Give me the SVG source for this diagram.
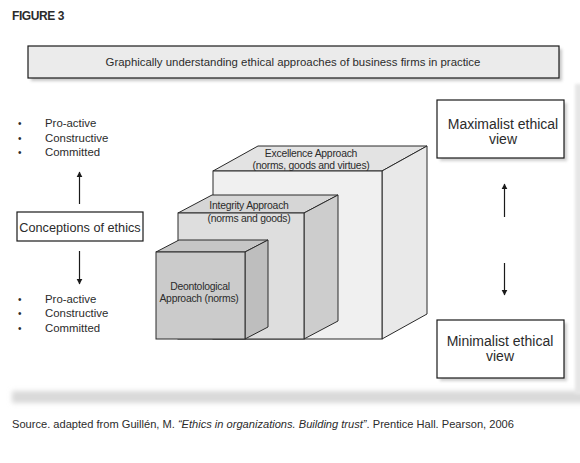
<svg xmlns="http://www.w3.org/2000/svg" width="580" height="463" viewBox="0 0 580 463">
<defs>
<style>
.t{font-family:"Liberation Sans",Arial,sans-serif;fill:#2b2b2b}
.c{font-size:10.4px;letter-spacing:-0.25px}
.box{fill:#fff;stroke:#1a1a1a;stroke-width:1.2}
.face{stroke:#2a2a2a;stroke-width:1}
.conn{stroke:#1a1a1a;stroke-width:1.2;fill:none}
</style>
<filter id="blur" x="-20%" y="-50%" width="140%" height="200%"><feGaussianBlur stdDeviation="2.5"/></filter>
<filter id="blur2" x="-20%" y="-20%" width="140%" height="140%"><feGaussianBlur stdDeviation="1.5"/></filter>
<marker id="ah" viewBox="0 0 10 10" refX="9" refY="5" markerWidth="6" markerHeight="7" markerUnits="userSpaceOnUse" orient="auto"><path d="M0,0 L10,5 L0,10 z" fill="#1a1a1a"/></marker>
</defs>
<rect width="580" height="463" fill="#fff"/>
<!-- frame shadows -->
<rect x="12" y="391" width="580" height="12" fill="#d9d9d9" filter="url(#blur)"/>
<rect x="575" y="84" width="8" height="310" fill="#e6e6e6" filter="url(#blur2)"/>
<text class="t" x="12" y="20" font-size="12" font-weight="bold" letter-spacing="-0.4">FIGURE 3</text>
<g id="title">
<rect x="31" y="49" width="531" height="32" fill="#c8c8c8" filter="url(#blur2)"/>
<rect x="28" y="46" width="531" height="32" fill="#ebebeb" stroke="#1a1a1a" stroke-width="1.2"/>
<text class="t" x="293" y="66" font-size="11.4" text-anchor="middle">Graphically understanding ethical approaches of business firms in practice</text>
</g>
<g id="excellence">
<polygon class="face" points="213,171 258,146 427,146 382,171" fill="#e3e3e3"/>
<polygon class="face" points="382,171 427,146 427,314 382,339" fill="#e9e9e9"/>
<rect class="face" x="213" y="171" width="169" height="168" fill="#f0f0f0"/>
<text class="t c" x="311" y="157" text-anchor="middle">Excellence Approach</text>
<text class="t c" x="311" y="168.5" text-anchor="middle">(norms, goods and virtues)</text>
</g>
<g id="integrity">
<polygon class="face" points="178,213 212,195 338,195 304,213" fill="#d6d6d6"/>
<polygon class="face" points="304,213 338,195 338,321 304,339" fill="#cdcdcd"/>
<rect class="face" x="178" y="213" width="126" height="126" fill="#dedede"/>
<text class="t c" x="249" y="209" text-anchor="middle">Integrity Approach</text>
<text class="t c" x="249" y="221.5" text-anchor="middle">(norms and goods)</text>
</g>
<g id="deontological">
<polygon class="face" points="156,252 179,240 268,240 245,252" fill="#c6c6c6"/>
<polygon class="face" points="245,252 268,240 268,327 245,339" fill="#bebebe"/>
<rect class="face" x="156" y="252" width="89" height="87" fill="#cbcbcb"/>
<text class="t c" x="200" y="290" text-anchor="middle">Deontological</text>
<text class="t c" x="199" y="301.5" text-anchor="middle">Approach (norms)</text>
</g>
<g id="conceptions">
<rect class="box" x="17" y="212" width="126" height="29"/>
<text class="t" x="80" y="231.5" font-size="12.7" text-anchor="middle">Conceptions of ethics</text>
</g>
<g id="bullets-top">
<text class="t" x="18" y="127" font-size="10">•</text>
<text class="t" x="18" y="141.5" font-size="10">•</text>
<text class="t" x="18" y="156" font-size="10">•</text>
<text class="t" x="45" y="127" font-size="11.4">Pro-active</text>
<text class="t" x="45" y="141.5" font-size="11.4">Constructive</text>
<text class="t" x="45" y="156" font-size="11.4">Committed</text>
</g>
<g id="bullets-bottom">
<text class="t" x="18" y="302.5" font-size="10">•</text>
<text class="t" x="18" y="317" font-size="10">•</text>
<text class="t" x="18" y="331.5" font-size="10">•</text>
<text class="t" x="45" y="302.5" font-size="11.4">Pro-active</text>
<text class="t" x="45" y="317" font-size="11.4">Constructive</text>
<text class="t" x="45" y="331.5" font-size="11.4">Committed</text>
</g>
<g id="maximalist">
<rect x="440" y="103" width="127" height="58" fill="#cfcfcf" filter="url(#blur2)"/>
<rect class="box" x="437" y="100" width="127" height="58"/>
<text class="t" x="503" y="128.5" font-size="14" text-anchor="middle">Maximalist ethical</text>
<text class="t" x="503" y="143.5" font-size="14" text-anchor="middle">view</text>
</g>
<g id="minimalist">
<rect x="440" y="323" width="127" height="58" fill="#cfcfcf" filter="url(#blur2)"/>
<rect class="box" x="437" y="320" width="127" height="58"/>
<text class="t" x="500" y="346" font-size="14" text-anchor="middle">Minimalist ethical</text>
<text class="t" x="500" y="361" font-size="14" text-anchor="middle">view</text>
</g>
<g id="connectors">
<line class="conn" x1="79.5" y1="204" x2="79.5" y2="172" marker-end="url(#ah)"/>
<line class="conn" x1="79.5" y1="251" x2="79.5" y2="284" marker-end="url(#ah)"/>
<line class="conn" x1="504.5" y1="217" x2="504.5" y2="184" marker-end="url(#ah)"/>
<line class="conn" x1="504.5" y1="263" x2="504.5" y2="295" marker-end="url(#ah)"/>
</g>
<text class="t" x="12" y="428" font-size="11.1">Source. adapted from Guillén, M. <tspan font-style="italic">“Ethics in organizations. Building trust”</tspan>. Prentice Hall. Pearson, 2006</text>
</svg>
